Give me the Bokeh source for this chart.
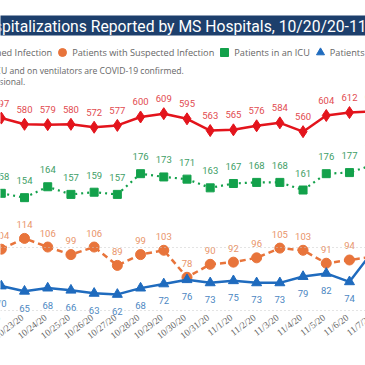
from bokeh.plotting import figure
from bokeh.models import Range1d, ColumnDataSource, Span, Legend, LegendItem, LabelSet
from bokeh.core.properties import value
from bokeh.embed import file_html
from bokeh.resources import INLINE
import pandas as pd

# ---- data ----
dates = ["10/22/20", "10/23/20", "10/24/20", "10/25/20", "10/26/20", "10/27/20",
         "10/28/20", "10/29/20", "10/30/20", "10/31/20", "11/1/20", "11/2/20",
         "11/3/20", "11/4/20", "11/5/20", "11/6/20", "11/7/20"]
confirmed = [597, 580, 579, 580, 572, 577, 600, 609, 595, 563, 565, 576, 584, 560, 604, 612, 615]
suspected = [104, 114, 106, 99, 106, 89, 99, 103, 78, 90, 92, 96, 105, 103, 91, 94, 97]
icu = [158, 154, 164, 157, 159, 157, 176, 173, 171, 163, 167, 168, 168, 161, 176, 177, 184]
ventilators = [70, 65, 68, 66, 63, 62, 68, 72, 76, 73, 75, 73, 73, 79, 82, 74, 103]

series_names = ["Patients with Confirmed Infection", "Patients with Suspected Infection",
                "Patients in an ICU", "Patients on Ventilators"]
title_text = "COVID-19 Hospitalizations Reported by MS Hospitals, 10/20/20-11/18/20"
note_lines = ["Patients in an ICU and on ventilators are COVID-19 confirmed.",
              "Data are provisional."]

start_day = pd.Timestamp("2020-10-20")
day_idx = [int((pd.to_datetime(d, format="%m/%d/%y") - start_day).days) for d in dates]

src = ColumnDataSource(dict(
    x=day_idx, date=dates,
    confirmed=confirmed, suspected=suspected, icu=icu, vent=ventilators,
    confirmed_lbl=[str(v) for v in confirmed],
    suspected_lbl=[str(v) for v in suspected],
    icu_lbl=[str(v) for v in icu],
    vent_lbl=[str(v) for v in ventilators],
))

W, H = 365, 365

RED, ORANGE, GREEN, BLUE = "#E3141C", "#E8743B", "#13A14B", "#1F6BBE"
RED_T, ORANGE_T, GREEN_T, BLUE_T = "#E24B50", "#E9946A", "#3E9E66", "#4C87C2"
GREY = "#666666"

p = figure(width=W, height=H, output_backend="svg", toolbar_location=None,
           x_range=Range1d(1.966, 17.69), y_range=Range1d(-3.7, 334.3),
           min_border_left=0, min_border_right=0, min_border_top=0,
           min_border_bottom=0, title=None)
p.extra_x_ranges = {"ui": Range1d(0, W)}
p.extra_y_ranges = {"ui": Range1d(H, 0),
                    "red": Range1d(-77.2, 917.4),
                    "icu": Range1d(0.0, 334.9),
                    "vent": Range1d(-5.7, 341.9)}
p.outline_line_color = None
p.background_fill_color = "white"
p.border_fill_color = "white"
p.xaxis.visible = False
p.yaxis.visible = False
p.xgrid.visible = False
p.ygrid.visible = False

# faint dotted gridlines
for loc in (247, 310):
    p.add_layout(Span(location=loc, dimension="width", y_range_name="ui",
                      line_color="#C8C8C8", line_width=1, line_dash="1 3"))

# title bar and notes
p.quad(left=[-20], right=[W + 20], top=[15], bottom=[35], x_range_name="ui", y_range_name="ui",
       fill_color="#1D3F6C", line_color=None)
p.text(x=[-98], y=[25.5], text=[title_text], x_range_name="ui", y_range_name="ui",
       text_font=value("Roboto"), text_font_size="15.7px", text_color="white",
       text_align="left", text_baseline="middle")
p.text(x=[-64], y=[70], text=[note_lines[0]], x_range_name="ui", y_range_name="ui",
       text_font=value("Open Sans"), text_font_size="8.6px", text_color=GREY,
       text_align="left", text_baseline="middle")
p.text(x=[-58], y=[81], text=[note_lines[1]], x_range_name="ui", y_range_name="ui",
       text_font=value("Open Sans"), text_font_size="8.6px", text_color=GREY,
       text_align="left", text_baseline="middle")

# date labels along the bottom (slanted, ending at each day's position)
p.add_layout(LabelSet(x="x", y=316, text="date", source=src, y_range_name="ui",
                      angle=0.65, x_offset=-2, text_align="right", text_baseline="middle",
                      text_font="Open Sans", text_font_size="9.5px", text_color=GREY))

# series
p.line("x", "confirmed", source=src, y_range_name="red", line_color=RED, line_width=2.5)
r_red = p.scatter("x", "confirmed", source=src, y_range_name="red", marker="diamond",
                  size=12, fill_color=RED, line_color=RED)
p.line("x", "icu", source=src, y_range_name="icu", line_color=GREEN, line_width=2.2, line_dash="2 4")
r_green = p.scatter("x", "icu", source=src, y_range_name="icu", marker="square",
                    size=8, fill_color=GREEN, line_color=GREEN)
p.line("x", "suspected", source=src, line_color=ORANGE, line_width=2.5, line_dash="6 4")
r_orange = p.scatter("x", "suspected", source=src, marker="circle",
                     size=10, fill_color=ORANGE, line_color=ORANGE)
p.line("x", "vent", source=src, y_range_name="vent", line_color=BLUE, line_width=2.5)
r_blue = p.scatter("x", "vent", source=src, y_range_name="vent", marker="triangle",
                   size=10, fill_color=BLUE, line_color=BLUE)

lbl_kw = dict(source=src, text_font=value("Roboto"), text_font_size="9.5px",
              text_align="center", text_baseline="middle")
p.text("x", "confirmed", text="confirmed_lbl", y_range_name="red", y_offset=-15,
       text_color=RED_T, **lbl_kw)
p.text("x", "icu", text="icu_lbl", y_range_name="icu", y_offset=-17,
       text_color=GREEN_T, **lbl_kw)
p.text("x", "suspected", text="suspected_lbl", y_offset=-14,
       text_color=ORANGE_T, **lbl_kw)
p.text("x", "vent", text="vent_lbl", y_range_name="vent", y_offset=17,
       text_color=BLUE_T, **lbl_kw)

legend = Legend(items=[LegendItem(label=series_names[0], renderers=[r_red]),
                       LegendItem(label=series_names[1], renderers=[r_orange]),
                       LegendItem(label=series_names[2], renderers=[r_green]),
                       LegendItem(label=series_names[3], renderers=[r_blue])],
                orientation="horizontal", location=(-111, 303),
                glyph_width=20, glyph_height=20, label_standoff=0, spacing=0,
                padding=0, margin=0, border_line_color=None, background_fill_alpha=0,
                label_text_font="Open Sans", label_text_font_size="9.2px",
                label_text_color=GREY, label_height=20)
p.add_layout(legend)

open("out.html", "w").write(file_html(p, INLINE))
